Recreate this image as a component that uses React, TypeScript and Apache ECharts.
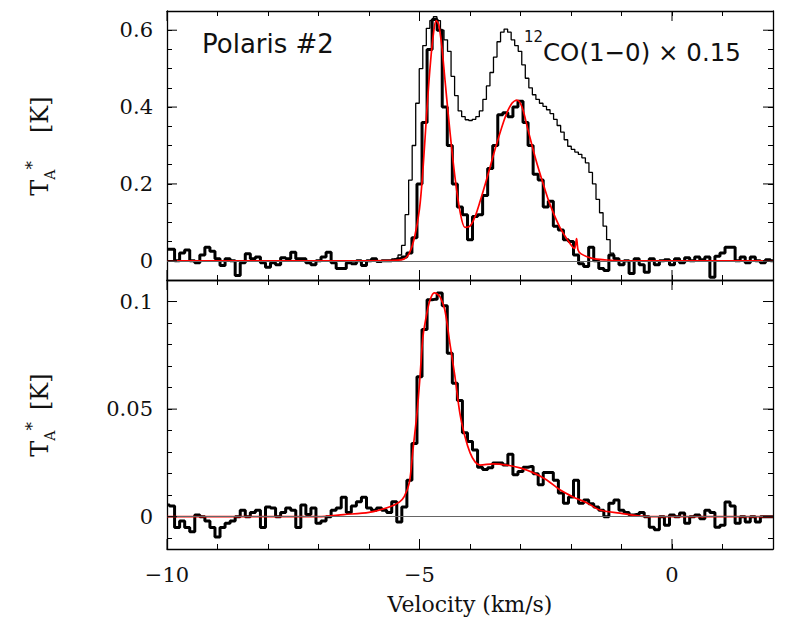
import React, { useEffect, useRef } from "react";
import * as echarts from "echarts";

// ---------- data ----------
// velocity grid of the thick spectra (km/s)
const V_START = -10;
const V_STEP = 0.1;
// velocity grid of the thin 12CO spectrum
const THIN_START = -5.6;
const THIN_STEP = 0.07;

const topThick = [
  0.03, 0.03, 0.0, 0.02, 0.028, 0.0, -0.005, 0.015, 0.035, 0.025,
  0.005, -0.012, 0.005, 0.0, -0.038, -0.005, 0.018, 0.005, 0.01, -0.005,
  -0.017, -0.005, -0.01, 0.008, 0.005, 0.022, 0.005, 0.005, -0.005, -0.01,
  0.0, 0.01, 0.022, -0.005, -0.02, -0.02, -0.005, -0.008, 0.0, -0.012,
  0.0, 0.005, -0.002, 0.0, 0.0, 0.003, 0.005, 0.01, 0.02, 0.06,
  0.2, 0.36, 0.55, 0.628, 0.6, 0.4, 0.3, 0.2, 0.14, 0.12,
  0.055, 0.115, 0.12, 0.17, 0.24, 0.3, 0.38, 0.385, 0.375, 0.4,
  0.415, 0.36, 0.3, 0.225, 0.21, 0.14, 0.155, 0.09, 0.08, 0.055,
  0.05, 0.015, -0.008, -0.015, 0.035, 0.0, -0.02, -0.025, 0.015, 0.005,
  -0.01, 0.0, -0.033, 0.005, -0.01, -0.03, 0.005, -0.01, 0.0, 0.003,
  -0.01, 0.005, -0.005, 0.008, 0.0, 0.01, 0.003, 0.01, -0.043, 0.012,
  0.02, 0.035, 0.035, 0.0, 0.01, -0.005, 0.01, 0.0, -0.005, 0.003,
  0.0,
];

const topThin12CO = [
  0.0, 0.0, 0.005, 0.015, 0.04, 0.12, 0.21, 0.3, 0.41, 0.5,
  0.56, 0.605, 0.625, 0.635, 0.625, 0.6, 0.575, 0.545, 0.48, 0.43,
  0.39, 0.375, 0.367, 0.365, 0.368, 0.375, 0.39, 0.42, 0.455, 0.49,
  0.53, 0.57, 0.595, 0.603, 0.595, 0.575, 0.56, 0.545, 0.51, 0.475,
  0.45, 0.432, 0.42, 0.41, 0.402, 0.393, 0.383, 0.368, 0.352, 0.335,
  0.315, 0.298, 0.29, 0.283, 0.277, 0.268, 0.255, 0.23, 0.2, 0.16,
  0.125, 0.09, 0.055, 0.02, 0.006, 0.0, 0.0,
];

const topFit = [
  [-10, 0], [-6, 0], [-5.5, 0.001], [-5.3, 0.005], [-5.2, 0.02], [-5.1, 0.06],
  [-5.0, 0.135], [-4.93, 0.24], [-4.85, 0.4], [-4.78, 0.52], [-4.72, 0.595],
  [-4.67, 0.625], [-4.62, 0.615], [-4.56, 0.56], [-4.5, 0.477], [-4.4, 0.34],
  [-4.3, 0.22], [-4.2, 0.13], [-4.1, 0.087], [-4.0, 0.09], [-3.9, 0.115],
  [-3.8, 0.155], [-3.66, 0.217], [-3.47, 0.305], [-3.3, 0.375], [-3.17, 0.41],
  [-3.07, 0.418], [-2.97, 0.4], [-2.85, 0.34], [-2.7, 0.265], [-2.55, 0.2],
  [-2.42, 0.148], [-2.22, 0.087], [-2.02, 0.045], [-1.93, 0.032], [-1.89, 0.058],
  [-1.86, 0.028], [-1.8, 0.018], [-1.6, 0.007], [-1.3, 0.002], [-1.0, 0], [2, 0],
];

const bottomThick = [
  0.0055, 0.005, -0.005, -0.002, -0.005, -0.007, 0.0008, 0.0, -0.002, -0.005,
  -0.0094, -0.005, -0.003, -0.002, 0.0, 0.003, 0.0, 0.002, 0.003, -0.005,
  0.0045, 0.004, 0.0, 0.002, 0.004, 0.003, -0.005, 0.0055, 0.001, 0.004,
  -0.003, -0.002, 0.0, 0.003, 0.004, 0.009, 0.002, 0.005, 0.007, 0.009,
  0.004, 0.003, 0.004, 0.003, 0.002, 0.007, -0.0025, 0.0045, 0.017, 0.034,
  0.065, 0.087, 0.1008, 0.101, 0.104, 0.098, 0.076, 0.062, 0.054, 0.039,
  0.035, 0.031, 0.023, 0.022, 0.0228, 0.025, 0.025, 0.024, 0.029, 0.0195,
  0.021, 0.023, 0.0233, 0.02, 0.0148, 0.0205, 0.0205, 0.017, 0.011, 0.0063,
  0.0092, 0.017, 0.0063, 0.0078, 0.006, 0.0045, 0.003, 0.0, 0.0063, 0.0078,
  0.003, 0.002, 0.0008, 0.001, 0.002, 0.0, -0.0049, -0.006, 0.0, -0.004,
  0.0008, 0.0, 0.0017, -0.003, 0.0, 0.0008, -0.001, 0.003, 0.002, -0.0049,
  -0.004, 0.0068, 0.005, -0.003, 0.0, -0.0025, 0.0, -0.0025, 0.0, 0.0,
  0.0,
];

const bottomFit = [
  [-10, 0], [-7, 0], [-6.5, 0.001], [-6, 0.002], [-5.6, 0.0045], [-5.4, 0.0068],
  [-5.3, 0.0095], [-5.2, 0.016], [-5.13, 0.031], [-5.05, 0.048], [-4.99, 0.065],
  [-4.93, 0.084], [-4.85, 0.095], [-4.79, 0.1008], [-4.71, 0.104], [-4.65, 0.1035],
  [-4.59, 0.102], [-4.5, 0.0963], [-4.4, 0.0808], [-4.3, 0.0654], [-4.2, 0.048],
  [-4.1, 0.0373], [-4.0, 0.0298], [-3.9, 0.0255], [-3.8, 0.024], [-3.54, 0.0246],
  [-3.27, 0.024], [-3.01, 0.0227], [-2.75, 0.0205], [-2.48, 0.0171], [-2.22, 0.0125],
  [-1.96, 0.0092], [-1.68, 0.0064], [-1.43, 0.0031], [-1.03, 0.0017], [-0.63, 0.0003],
  [-0.3, 0], [2, 0],
];

const xMajorTicks = [-10, -5, 0];
const xTickLabels = ["\u221210", "\u22125", "0"];
const topYMajor = [0, 0.2, 0.4, 0.6];
const topYLabels = ["0", "0.2", "0.4", "0.6"];
const botYMajor = [0, 0.05, 0.1];
const botYLabels = ["0", "0.05", "0.1"];

const X_MIN = -10;
const X_MAX = 2;
const TOP_MIN = -0.05;
const TOP_MAX = 0.65;
const BOT_MIN = -0.015;
const BOT_MAX = 0.11;

// ---------- helpers ----------
const SERIF = "DejaVu Serif";
const SANS = "DejaVu Sans";
const INK = "#111";

const toXY = (vals: number[], start: number, step: number) =>
  vals.map((t, i) => [Math.round((start + i * step) * 1000) / 1000, t]);

const labelFmt = (ticks: number[], labels: string[]) => (v: number) => {
  const i = ticks.findIndex((t) => Math.abs(t - v) < 1e-6);
  return i >= 0 ? labels[i] : "";
};

const xAxisDef = (gridIndex: number, position: string, showLabels: boolean) => ({
  type: "value",
  gridIndex,
  position,
  min: X_MIN,
  max: X_MAX,
  minInterval: 1,
  maxInterval: 1,
  axisLine: { show: true, onZero: false, lineStyle: { color: "#000", width: 1.3 } },
  axisTick: { show: true, inside: true, length: 5, lineStyle: { color: "#000", width: 1 } },
  axisLabel: {
    show: showLabels,
    margin: 15,
    formatter: labelFmt(xMajorTicks, xTickLabels),
    fontFamily: SERIF,
    fontSize: 21,
    color: INK,
    alignMinLabel: "center",
    alignMaxLabel: "center",
  },
  splitLine: { show: false },
});

const yAxisDef = (
  gridIndex: number,
  position: string,
  min: number,
  max: number,
  minor: number,
  ticks: number[],
  labels: string[],
  showLabels: boolean
) => ({
  type: "value",
  gridIndex,
  position,
  min,
  max,
  minInterval: minor,
  maxInterval: minor,
  axisLine: { show: true, onZero: false, lineStyle: { color: "#000", width: 1.3 } },
  axisTick: { show: true, inside: true, length: 5, lineStyle: { color: "#000", width: 1 } },
  axisLabel: {
    show: showLabels,
    margin: 14,
    formatter: labelFmt(ticks, labels),
    fontFamily: SERIF,
    fontSize: 21,
    color: INK,
  },
  splitLine: { show: false },
});

const xMajorTickSeries = (axisIndex: number, yMin: number, yMax: number) => ({
  type: "custom",
  xAxisIndex: axisIndex,
  yAxisIndex: axisIndex,
  silent: true,
  z: 5,
  clip: false,
  data: xMajorTicks.map((v) => [v, yMin]),
  renderItem: (_p: any, api: any) => {
    const v = api.value(0);
    const b = api.coord([v, yMin]);
    const t = api.coord([v, yMax]);
    const st = { stroke: "#000", lineWidth: 1 };
    return {
      type: "group",
      children: [
        { type: "line", shape: { x1: b[0], y1: b[1], x2: b[0], y2: b[1] - 10 }, style: st },
        { type: "line", shape: { x1: t[0], y1: t[1], x2: t[0], y2: t[1] + 10 }, style: st },
      ],
    };
  },
});

const yMajorTickSeries = (axisIndex: number, ticks: number[]) => ({
  type: "custom",
  xAxisIndex: axisIndex,
  yAxisIndex: axisIndex,
  silent: true,
  z: 5,
  clip: false,
  data: ticks.map((t) => [X_MIN, t]),
  renderItem: (_p: any, api: any) => {
    const t = api.value(1);
    const l = api.coord([X_MIN, t]);
    const r = api.coord([X_MAX, t]);
    const st = { stroke: "#000", lineWidth: 1 };
    return {
      type: "group",
      children: [
        { type: "line", shape: { x1: l[0], y1: l[1], x2: l[0] + 10, y2: l[1] }, style: st },
        { type: "line", shape: { x1: r[0], y1: r[1], x2: r[0] - 10, y2: r[1] }, style: st },
      ],
    };
  },
});

const zeroLine = {
  silent: true,
  symbol: ["none", "none"],
  label: { show: false },
  lineStyle: { color: "#666", width: 1.2, type: "solid" },
  data: [{ yAxis: 0 }],
};

const yTitle = (cx: number, cy: number, gap: number) => ({
  type: "text",
  x: cx,
  y: cy,
  rotation: Math.PI / 2,
  style: {
    text: "{t|T}{a|A}{s|*}{g|}{k|[K]}",
    align: "center",
    verticalAlign: "middle",
    fill: INK,
    rich: {
      t: { fontFamily: SERIF, fontSize: 24, lineHeight: 34, fill: INK },
      a: { fontFamily: SERIF, fontSize: 14, verticalAlign: "bottom", lineHeight: 16, fill: INK },
      s: { fontFamily: SERIF, fontSize: 17, verticalAlign: "top", lineHeight: 16, fill: INK },
      g: { width: gap },
      k: { fontFamily: SERIF, fontSize: 24, lineHeight: 34, fill: INK },
    },
  },
});

export default function App() {
  const ref = useRef<HTMLDivElement>(null);

  useEffect(() => {
    if (!ref.current) return;
    const chart = echarts.init(ref.current, undefined, { renderer: "svg" });

    const option: any = {
      animation: false,
      backgroundColor: "#fff",
      grid: [
        { left: 167, right: 14, top: 11, height: 269, containLabel: false, outerBoundsMode: "none" },
        { left: 167, right: 14, top: 280, height: 269, containLabel: false, outerBoundsMode: "none" },
      ],
      xAxis: [
        xAxisDef(0, "bottom", false),
        xAxisDef(0, "top", false),
        xAxisDef(1, "bottom", true),
        xAxisDef(1, "top", false),
      ],
      yAxis: [
        yAxisDef(0, "left", TOP_MIN, TOP_MAX, 0.05, topYMajor, topYLabels, true),
        yAxisDef(0, "right", TOP_MIN, TOP_MAX, 0.05, topYMajor, topYLabels, false),
        yAxisDef(1, "left", BOT_MIN, BOT_MAX, 0.01, botYMajor, botYLabels, true),
        yAxisDef(1, "right", BOT_MIN, BOT_MAX, 0.01, botYMajor, botYLabels, false),
      ],
      series: [
        {
          name: "12CO x 0.15",
          type: "line",
          xAxisIndex: 0,
          yAxisIndex: 0,
          step: "middle",
          symbol: "none",
          data: toXY(topThin12CO, THIN_START, THIN_STEP),
          lineStyle: { color: "#000", width: 1.3 },
          z: 2,
        },
        {
          name: "top spectrum",
          type: "line",
          xAxisIndex: 0,
          yAxisIndex: 0,
          step: "middle",
          symbol: "none",
          data: toXY(topThick, V_START, V_STEP),
          lineStyle: { color: "#000", width: 3 },
          markLine: zeroLine,
          z: 3,
        },
        {
          name: "top fit",
          type: "line",
          xAxisIndex: 0,
          yAxisIndex: 0,
          smooth: 0.3,
          symbol: "none",
          data: topFit,
          lineStyle: { color: "#ff0000", width: 1.7 },
          z: 4,
        },
        {
          name: "bottom spectrum",
          type: "line",
          xAxisIndex: 2,
          yAxisIndex: 2,
          step: "middle",
          symbol: "none",
          data: toXY(bottomThick, V_START, V_STEP),
          lineStyle: { color: "#000", width: 3 },
          markLine: zeroLine,
          z: 3,
        },
        {
          name: "bottom fit",
          type: "line",
          xAxisIndex: 2,
          yAxisIndex: 2,
          smooth: 0.3,
          symbol: "none",
          data: bottomFit,
          lineStyle: { color: "#ff0000", width: 1.7 },
          z: 4,
        },
        xMajorTickSeries(0, TOP_MIN, TOP_MAX),
        yMajorTickSeries(0, topYMajor),
        xMajorTickSeries(2, BOT_MIN, BOT_MAX),
        yMajorTickSeries(2, botYMajor),
      ],
      graphic: [
        {
          type: "text",
          x: 202,
          y: 44,
          style: { text: "Polaris #2", font: `26px '${SANS}'`, fill: INK, align: "left", verticalAlign: "middle" },
        },
        {
          type: "text",
          x: 524,
          y: 37,
          style: { text: "12", font: `15px '${SANS}'`, fill: INK, align: "left", verticalAlign: "middle" },
        },
        {
          type: "text",
          x: 543,
          y: 52,
          style: {
            text: "CO(1\u22120) \u00d7 0.15",
            font: `24.5px '${SANS}'`,
            fill: INK,
            align: "left",
            verticalAlign: "middle",
          },
        },
        {
          type: "text",
          x: 470,
          y: 604,
          style: {
            text: "Velocity (km/s)",
            font: `22px '${SERIF}'`,
            fill: INK,
            align: "center",
            verticalAlign: "middle",
          },
        },
        yTitle(40, 146, 28),
        yTitle(40, 415, 12),
      ],
    };

    chart.setOption(option);
    return () => chart.dispose();
  }, []);

  return (
    <div
      ref={ref}
      style={{ position: "fixed", left: 0, top: 0, width: 787, height: 619, background: "#fff" }}
    />
  );
}
